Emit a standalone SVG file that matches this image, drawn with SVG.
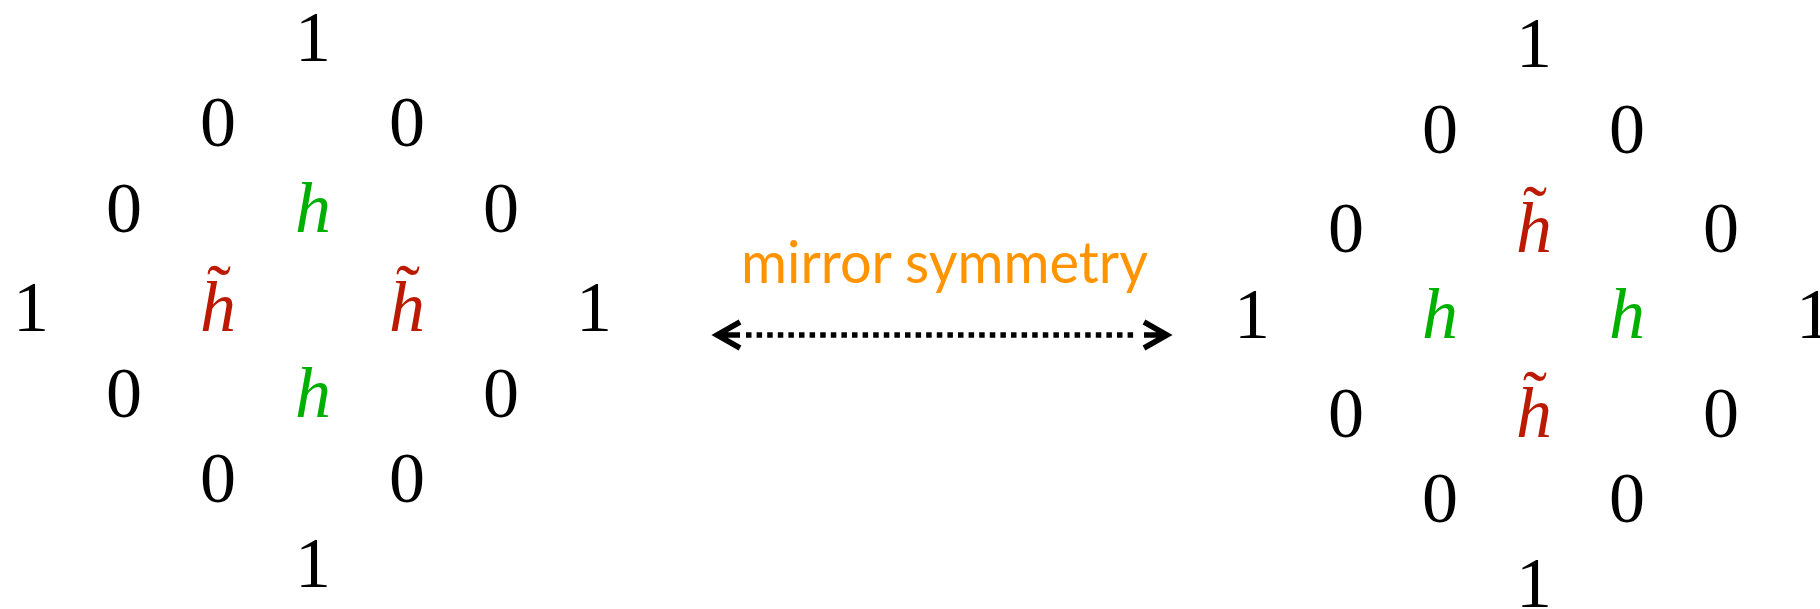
<svg xmlns="http://www.w3.org/2000/svg" width="1820" height="609" viewBox="0 0 1820 609">
<style>
.n{fill:#000;text-anchor:middle}
.h{font-style:italic;fill:#00B000;text-anchor:middle}
.ht{font-style:italic;fill:#BB1A00;text-anchor:middle}
.tl{fill:#BB1A00;text-anchor:middle}
.lbl{font-family:Lato,"Open Sans",sans-serif;font-size:58px;fill:#FF9400;text-anchor:middle}
</style>
<defs>
<marker id="chev" markerUnits="userSpaceOnUse" viewBox="-5 -20 40 40" markerWidth="40" markerHeight="40" refX="0" refY="0" orient="auto-start-reverse">
<path d="M6,-13 L29,0 L6,13 M6,0 L29,0" fill="none" stroke="#000" stroke-width="5.5" stroke-linejoin="miter"/>
</marker>
</defs>
<g font-family="Liberation Serif, Times New Roman, serif" font-size="72">
<g id="left-diamond">
<g id="L-r1"><text class="n" x="313" y="61">1</text></g>
<g id="L-r2"><text class="n" x="218" y="146">0</text><text class="n" x="407" y="146">0</text></g>
<g id="L-r3"><text class="n" x="124" y="232">0</text><text class="h" x="313" y="232">h</text><text class="n" x="501" y="232">0</text></g>
<g id="L-r4"><text class="n" x="31" y="331">1</text>
<text class="ht" x="218" y="331">h</text><text class="tl" x="219" y="314">˜</text>
<text class="ht" x="407" y="331">h</text><text class="tl" x="408" y="314">˜</text>
<text class="n" x="594" y="331">1</text></g>
<g id="L-r5"><text class="n" x="124" y="417">0</text><text class="h" x="313" y="417">h</text><text class="n" x="501" y="417">0</text></g>
<g id="L-r6"><text class="n" x="218" y="502">0</text><text class="n" x="407" y="502">0</text></g>
<g id="L-r7"><text class="n" x="313" y="587">1</text></g>
</g>
<g id="right-diamond">
<g id="R-r1"><text class="n" x="1534" y="67">1</text></g>
<g id="R-r2"><text class="n" x="1440" y="153">0</text><text class="n" x="1627" y="153">0</text></g>
<g id="R-r3"><text class="n" x="1346" y="252">0</text>
<text class="ht" x="1534" y="252">h</text><text class="tl" x="1535" y="235">˜</text>
<text class="n" x="1721" y="252">0</text></g>
<g id="R-r4"><text class="n" x="1252" y="338">1</text><text class="h" x="1440" y="338">h</text><text class="h" x="1627" y="338">h</text><text class="n" x="1814" y="338">1</text></g>
<g id="R-r5"><text class="n" x="1346" y="437">0</text>
<text class="ht" x="1534" y="437">h</text><text class="tl" x="1535" y="420">˜</text>
<text class="n" x="1721" y="437">0</text></g>
<g id="R-r6"><text class="n" x="1440" y="522">0</text><text class="n" x="1627" y="522">0</text></g>
<g id="R-r7"><text class="n" x="1534" y="607">1</text></g>
</g>
</g>
<g id="label"><text class="lbl" x="944.5" y="283" textLength="407" lengthAdjust="spacingAndGlyphs">mirror symmetry</text></g>
<g id="connectors">
<line x1="746" y1="335" x2="1138" y2="335" stroke="#000" stroke-width="5.5" stroke-dasharray="5.5 5.1" marker-start="url(#chev)" marker-end="url(#chev)"/>
</g>
</svg>
